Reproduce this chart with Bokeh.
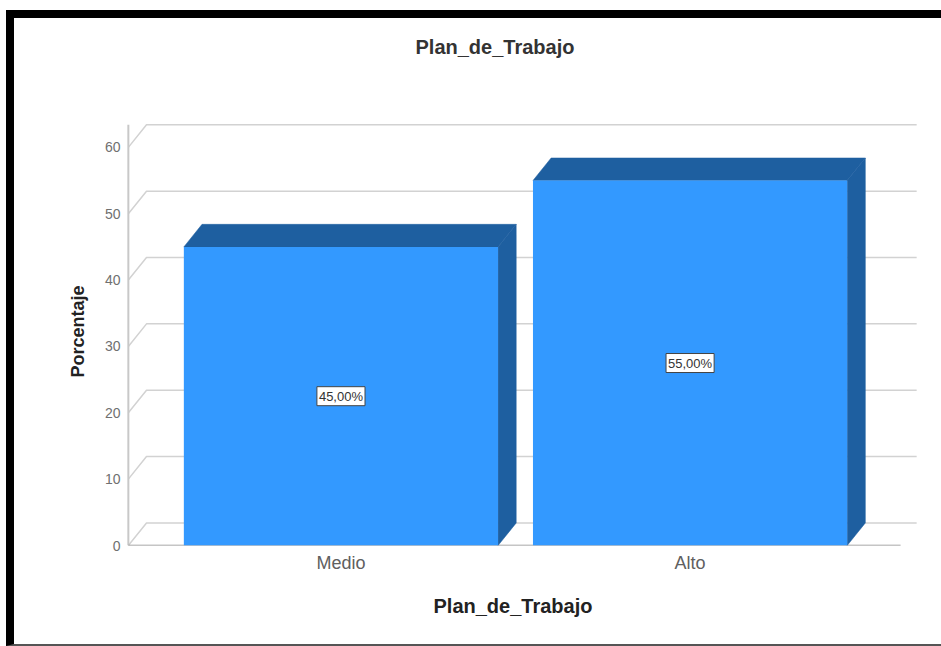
from bokeh.plotting import figure
from bokeh.models import Range1d, FixedTicker, ColumnDataSource, Title
from bokeh.core.properties import value
from bokeh.embed import file_html
from bokeh.resources import INLINE

# Data
categories = ["Medio", "Alto"]
percentages = [45.0, 55.0]
y_ticks = [0, 10, 20, 30, 40, 50, 60]

# Styling / geometry of the pseudo-3D bars
BAR_W = 0.9
DEPTH_X = 0.052
DEPTH_Y = 3.4
FRONT = "#3399ff"
SHADE = "#1e5fa0"
FONT = "Liberation Sans"

X_START, X_END = -0.62, 1.66
AXIS_X = -0.609
BACK_RIGHT = 1.649
FRONT_RIGHT = 1.603

p = figure(width=927, height=626,
           x_range=Range1d(X_START, X_END), y_range=Range1d(0, 64.5),
           output_backend="svg", toolbar_location=None,
           min_border_left=110, min_border_right=29,
           min_border_top=0, min_border_bottom=109,
           title_location=None)
p.styles = {"box-sizing": "content-box",
            "margin-left": "6px", "margin-top": "10px",
            "border-top": "8px solid #000", "border-left": "8px solid #000",
            "border-bottom": "2px solid #555"}
p.grid.visible = False
p.outline_line_color = None
p.background_fill_color = "white"

# spacer between frame and title, then the title itself (outermost)
p.add_layout(Title(text=" ", text_font_size="1px", standoff=42), "above")
p.add_layout(Title(text="Plan_de_Trabajo", align="left", offset=291, standoff=30,
                   text_font=FONT, text_font_size="20px", text_font_style="bold",
                   text_color="#333333"), "above")

# back-wall gridlines with the perspective step at the left
grid_xs = [[AXIS_X, AXIS_X + DEPTH_X, BACK_RIGHT] for _ in y_ticks]
grid_ys = [[t, t + DEPTH_Y, t + DEPTH_Y] for t in y_ticks]
p.multi_line(grid_xs, grid_ys, line_color="#d2d2d2", line_width=1.5)

# front axis line and baseline
p.segment(x0=[AXIS_X], y0=[0], x1=[AXIS_X], y1=[max(y_ticks) + DEPTH_Y],
          line_color="#c8c8c8", line_width=2)
p.segment(x0=[AXIS_X], y0=[0], x1=[FRONT_RIGHT], y1=[0],
          line_color="#8c8c8c", line_width=1.5)

# bars
xpos = list(range(len(categories)))
lefts = [x - BAR_W / 2 for x in xpos]
rights = [x + BAR_W / 2 for x in xpos]

top_xs = [[l, r, r + DEPTH_X, l + DEPTH_X] for l, r in zip(lefts, rights)]
top_ys = [[v, v, v + DEPTH_Y, v + DEPTH_Y] for v in percentages]
side_xs = [[r, r + DEPTH_X, r + DEPTH_X, r] for r in rights]
side_ys = [[0, DEPTH_Y, v + DEPTH_Y, v] for v in percentages]

p.patches(side_xs, side_ys, fill_color=SHADE, line_color=SHADE, line_width=0.5)
p.patches(top_xs, top_ys, fill_color=SHADE, line_color=SHADE, line_width=0.5)
p.quad(left=lefts, right=rights, bottom=0, top=percentages,
       fill_color=FRONT, line_color=None)

# value labels
lab_src = ColumnDataSource(dict(
    x=xpos,
    y=[v / 2 for v in percentages],
    text=[f"{v:.2f}".replace(".", ",") + "%" for v in percentages],
))
p.text(x="x", y="y", text="text", source=lab_src,
       text_align="center", text_baseline="middle",
       text_font=value(FONT), text_font_size="13px", text_color="#333333",
       background_fill_color="white", border_line_color="#444444",
       border_line_width=1, padding=2)

# axes
p.yaxis.ticker = FixedTicker(ticks=y_ticks)
p.yaxis.axis_line_color = None
p.yaxis.major_tick_line_color = None
p.yaxis.minor_tick_line_color = None
p.yaxis.major_label_standoff = -2
p.yaxis.major_label_text_font = FONT
p.yaxis.major_label_text_font_size = "14px"
p.yaxis.major_label_text_color = "#707070"
p.yaxis.axis_label = "Porcentaje"
p.yaxis.axis_label_text_font = FONT
p.yaxis.axis_label_text_font_size = "18px"
p.yaxis.axis_label_text_font_style = "bold"
p.yaxis.axis_label_text_color = "#222222"
p.yaxis.axis_label_standoff = 14

p.xaxis.ticker = FixedTicker(ticks=xpos)
p.xaxis.major_label_overrides = {i: c for i, c in zip(xpos, categories)}
p.xaxis.axis_line_color = None
p.xaxis.major_tick_line_color = None
p.xaxis.minor_tick_line_color = None
p.xaxis.major_label_standoff = 1
p.xaxis.major_label_text_font = FONT
p.xaxis.major_label_text_font_size = "18px"
p.xaxis.major_label_text_color = "#606060"

xtitle = Title(text="Plan_de_Trabajo", align="left", offset=309, standoff=35,
               text_font=FONT, text_font_size="20px", text_font_style="bold",
               text_color="#222222")
p.add_layout(xtitle, "below")

open("out.html", "w").write(file_html(p, INLINE))
